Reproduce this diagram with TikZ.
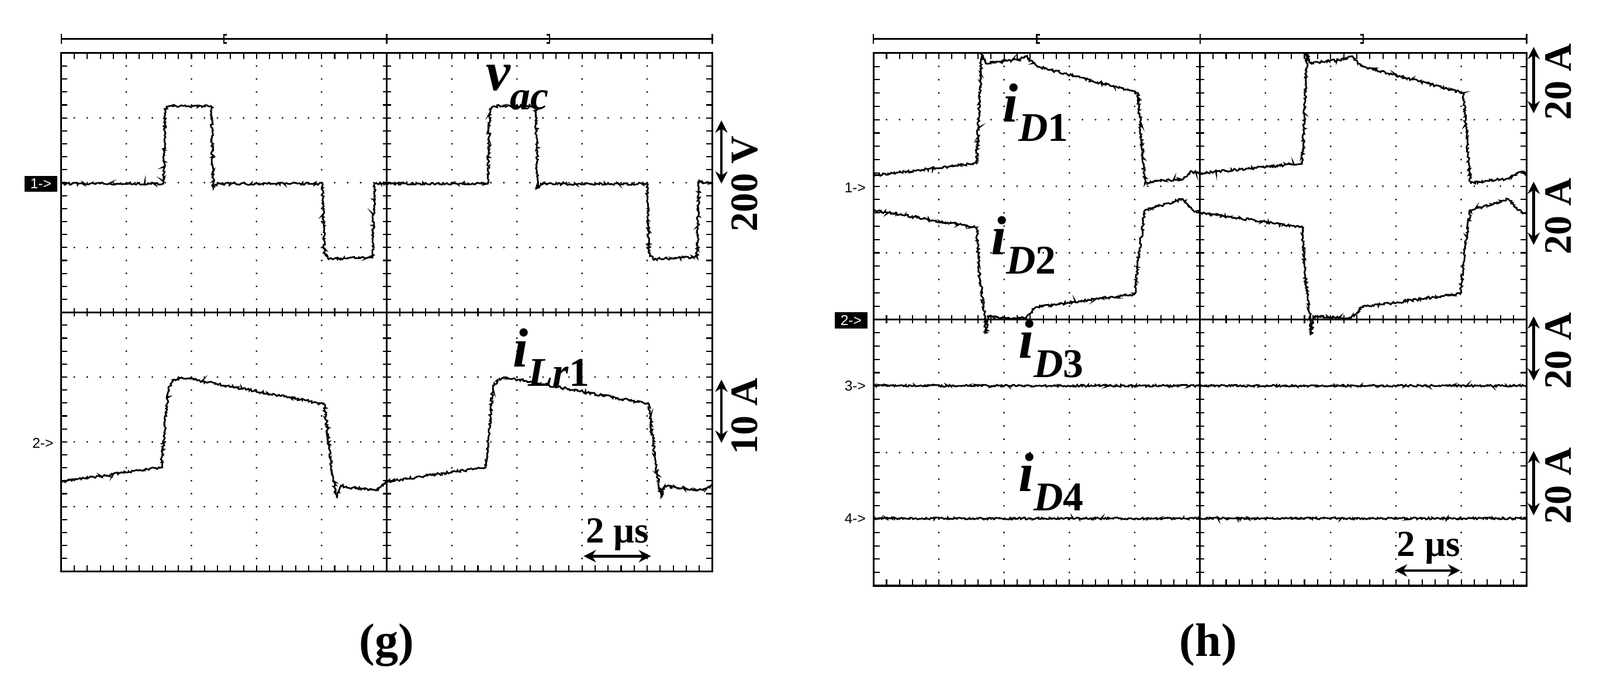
\documentclass[tikz,border=0pt]{standalone}
\usepackage{fontspec}
\setmainfont{Liberation Serif}
\setsansfont{Liberation Sans}
\usetikzlibrary{decorations.pathmorphing,arrows.meta}
\newcommand\sigsub[1]{\raisebox{-0.35em}{\fontsize{20}{21}\selectfont #1}}
\tikzset{
 trace/.style={line width=0.8pt,decorate,decoration={random steps,segment length=0.6pt,amplitude=0.6pt}},
 flat/.style={line width=0.8pt,decorate,decoration={random steps,segment length=0.6pt,amplitude=0.5pt}},
 sarrow/.style={{Stealth[length=6pt,width=6pt]}-{Stealth[length=6pt,width=6pt]},line width=1.3pt},
 siglab/.style={font=\fontsize{27}{29}\selectfont\bfseries\itshape},
 scalelab/.style={font=\fontsize{19}{20}\selectfont\bfseries,rotate=90},
 chm/.style={font=\sffamily\fontsize{7}{8}\selectfont,inner sep=1pt},
 chbox/.style={font=\sffamily\fontsize{7}{8}\selectfont,fill=black,text=white,inner sep=1.5pt,minimum width=16pt},
 caption/.style={font=\fontsize{23}{25}\selectfont\bfseries}
}
\newcommand\drawscopegrid[4]{% x0 y0 x1 y1
 \pgfmathsetmacro\gdx{(#3-#1)/10}\pgfmathsetmacro\gdy{(#4-#2)/8}
 \pgfmathsetmacro\gxm{(#1+#3)/2}\pgfmathsetmacro\gym{(#2+#4)/2}
 \foreach \i in {1,2,3,4,6,7,8,9}{\foreach \k in {1,...,39}{
   \fill ({#1+\i*\gdx},{#2+\k*\gdy/5}) circle (0.45pt);}}
 \foreach \j in {1,2,3,5,6,7}{\foreach \k in {1,...,49}{
   \fill ({#1+\k*\gdx/5},{#2+\j*\gdy}) circle (0.45pt);}}
 \draw[line width=0.9pt] (#1,#2) rectangle (#3,#4);
 \draw[line width=0.9pt] (\gxm,#2) -- (\gxm,#4) (#1,\gym) -- (#3,\gym);
 \foreach \k in {1,...,49}{
   \draw[line width=0.6pt] ({#1+\k*\gdx/5},#2) -- ++(0,6) ({#1+\k*\gdx/5},#4) -- ++(0,-6)
     ({#1+\k*\gdx/5},\gym-4) -- ++(0,8);}
 \foreach \k in {1,...,39}{
   \draw[line width=0.6pt] (#1,{#2+\k*\gdy/5}) -- ++(6,0) (#3,{#2+\k*\gdy/5}) -- ++(-6,0)
     (\gxm-4,{#2+\k*\gdy/5}) -- ++(8,0);}
 \pgfmathsetmacro\gbl{#1+2.5*\gdx}\pgfmathsetmacro\gbr{#1+7.5*\gdx}
 \draw[line width=0.7pt] (#1,38) -- (#3,38) (#1,33) -- (#1,43) (#3,33) -- (#3,43) (\gxm,33) -- (\gxm,43)
   (\gbl+3,34) -- (\gbl,34) -- (\gbl,42) -- (\gbl+3,42)
   (\gbr-3,34) -- (\gbr,34) -- (\gbr,42) -- (\gbr-3,42);
}
\begin{document}
\begin{tikzpicture}[x=0.5pt,y=-0.5pt]
\useasboundingbox (0,0) rectangle (1568,677);
% ---------- panel g
\drawscopegrid{60}{52}{698}{560}
\draw[trace] (60,180) -- (160,180) -- (162,107) -- (166,104) -- (207,104) -- (209,184) -- (212,180) -- (316,180) -- (318,248) -- (322,254) -- (365,252) -- (367,180)
 -- (478,180) -- (480,107) -- (484,104) -- (525,104) -- (527,184) -- (530,180) -- (634,180) -- (636,248) -- (640,254) -- (683,252) -- (685,178) -- (698,180);
\draw[trace] (60,472) -- (158,458) -- (165,380) -- (170,372) -- (178,370) -- (190,372) -- (318,396) -- (324,450) -- (328,478) -- (330,487) -- (334,476) -- (345,478) -- (370,480) -- (378,472)
 -- (476,458) -- (483,380) -- (488,372) -- (496,370) -- (508,372) -- (636,396) -- (642,450) -- (646,478) -- (648,487) -- (652,476) -- (663,478) -- (688,480) -- (698,476);
\node[chbox] (g1) at (40,180) {1->};
\node[chm] (g2) at (42,434) {2->};
\coordinate (ga1) at (707,118); \coordinate (ga2) at (707,180);
\draw[sarrow] (ga1) -- (ga2);
\node[scalelab] (gl1) at (730,180) {200 V};
\coordinate (gb1) at (707,372); \coordinate (gb2) at (707,434);
\draw[sarrow] (gb1) -- (gb2);
\node[scalelab] (gl2) at (730,408) {10 A};
\node[siglab] (vac) at (507,86) {v\sigsub{ac}};
\node[siglab] (ilr) at (540,350) {i\sigsub{Lr\upshape 1}};
\node[font=\fontsize{18}{19}\selectfont\bfseries] (gt) at (605,524) {2 µs};
\coordinate (gt1) at (572,545); \coordinate (gt2) at (638,545);
\draw[sarrow] (gt1) -- (gt2);
\node[caption] (gcap) at (379,632) {(g)};
% ---------- panel h
\drawscopegrid{856}{52}{1496}{574}
\draw[trace] (856,172) -- (957,160) -- (960,100) -- (962,52) -- (964,58) -- (966,62) -- (1000,58) -- (1006,55) -- (1012,62) -- (1020,66) -- (1115,91) -- (1119,140) -- (1122,180) -- (1130,178) -- (1160,175) -- (1168,168) -- (1175,170)
 -- (1276,160) -- (1279,100) -- (1281,52) -- (1283,58) -- (1285,62) -- (1319,58) -- (1325,55) -- (1331,62) -- (1339,66) -- (1434,91) -- (1438,140) -- (1441,180) -- (1449,178) -- (1479,175) -- (1487,170) -- (1492,168) -- (1496,172);
\draw[trace] (856,206) -- (957,223) -- (960,270) -- (965,312) -- (966,327) -- (968,310) -- (1005,312) -- (1015,301) -- (1112,288) -- (1116,250) -- (1122,206) -- (1159,195) -- (1169,206) -- (1175,208)
 -- (1276,223) -- (1279,270) -- (1284,312) -- (1285,327) -- (1287,310) -- (1324,312) -- (1334,301) -- (1431,288) -- (1435,250) -- (1441,206) -- (1478,195) -- (1488,206) -- (1496,210);
\draw[flat] (856,378) -- (1496,378);
\draw[flat] (856,508) -- (1496,508);
\node[chm] (h1) at (838,184) {1->};
\node[chbox] (h2) at (834,314) {2->};
\node[chm] (h3) at (838,378) {3->};
\node[chm] (h4) at (838,508) {4->};
\foreach \a/\b/\c in {46/111/80, 178/240/212, 310/373/344, 442/505/476}{
  \draw[sarrow] (1503,\a) -- (1503,\b);
  \node[scalelab] at (1527,\c) {20 A};}
\node[siglab] (d1) at (1015,110) {i\sigsub{D\upshape 1}};
\node[siglab] (d2) at (1003,240) {i\sigsub{D\upshape 2}};
\node[siglab] (d3) at (1030,342) {i\sigsub{D\upshape 3}};
\node[siglab] (d4) at (1030,472) {i\sigsub{D\upshape 4}};
\node[font=\fontsize{18}{19}\selectfont\bfseries] (ht) at (1400,537) {2 µs};
\coordinate (ht1) at (1367,559); \coordinate (ht2) at (1431,559);
\draw[sarrow] (ht1) -- (ht2);
\node[caption] (hcap) at (1184,632) {(h)};
\end{tikzpicture}
\end{document}
